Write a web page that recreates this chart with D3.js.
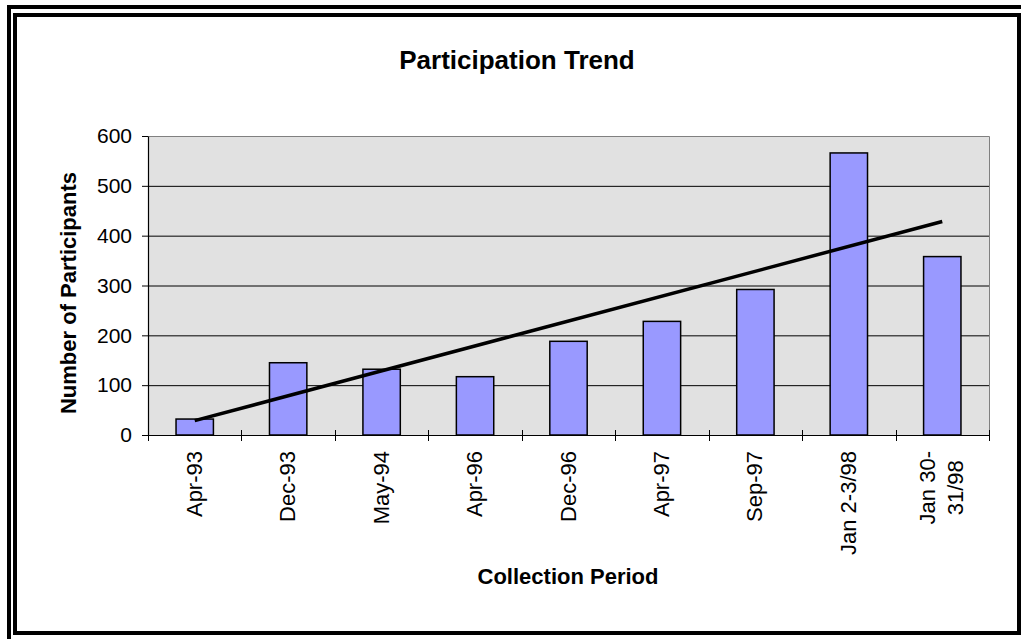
<!DOCTYPE html>
<html>
<head>
<meta charset="utf-8">
<script src="https://cdn.jsdelivr.net/npm/d3@7/dist/d3.min.js"></script>
<style>
  body { margin:0; background:#fff; }
  text { font-family: "Liberation Sans", Arial, sans-serif; fill:#000; }
</style>
</head>
<body>
<div id="chart"></div>
<script>
// data
var periods = ["Apr-93","Dec-93","May-94","Apr-96","Dec-96","Apr-97","Sep-97","Jan 2-3/98","Jan 30-\n31/98"];
var participants = [32,145,132,117,188,228,292,566,358];
var yTicks = [0,100,200,300,400,500,600];

var W = 1021, H = 639;
var plot = {l:148, r:989, t:136, b:435};

var svg = d3.select("#chart").append("svg")
    .attr("width",W).attr("height",H);

// double frame
svg.append("rect").attr("x",9).attr("y",7).attr("width",1100).attr("height",700)
    .attr("fill","none").attr("stroke","#000").attr("stroke-width",4);
svg.append("rect").attr("x",15).attr("y",15).attr("width",1004).attr("height",618)
    .attr("fill","none").attr("stroke","#000").attr("stroke-width",4);

var x = d3.scaleBand()
    .domain(periods)
    .range([plot.l, plot.r])
    .paddingInner(0.6)
    .paddingOuter(0.3);

var y = d3.scaleLinear()
    .domain([0,600])
    .range([plot.b, plot.t]);

// plot area
svg.append("rect")
    .attr("x",plot.l).attr("y",plot.t)
    .attr("width",plot.r-plot.l).attr("height",plot.b-plot.t)
    .attr("fill","#e1e1e1");

svg.selectAll(".grid")
    .data(yTicks.filter(function(d){return d>0 && d<600;}))
    .enter().append("line")
    .attr("class","grid")
    .attr("x1",plot.l).attr("x2",plot.r)
    .attr("y1",function(d){return y(d)+0.5;})
    .attr("y2",function(d){return y(d)+0.5;})
    .attr("stroke","#000").attr("stroke-width",1);

// gray border top + right
svg.append("path")
    .attr("d","M"+plot.l+","+(plot.t+0.5)+"H"+(plot.r+0.5)+"V"+plot.b)
    .attr("fill","none").attr("stroke","#808080").attr("stroke-width",1);

// bars
svg.selectAll(".bar")
    .data(participants)
    .enter().append("rect")
    .attr("class","bar")
    .attr("x",function(d,i){return x(periods[i]);})
    .attr("y",function(d){return y(d);})
    .attr("width",x.bandwidth())
    .attr("height",function(d){return y(0)-y(d);})
    .attr("fill","#9999ff")
    .attr("stroke","#000")
    .attr("stroke-width",1.5);

// linear trendline (least squares over category index)
var n = participants.length;
var mx = (n-1)/2, my = d3.mean(participants);
var sxy = 0, sxx = 0;
participants.forEach(function(v,i){ sxy += (i-mx)*(v-my); sxx += (i-mx)*(i-mx); });
var slope = sxy/sxx, icpt = my - slope*mx;
var trend = [0, n-1].map(function(i){ return {i:i, v:icpt+slope*i}; });

var line = d3.line()
    .x(function(d){ return x(periods[d.i]) + x.bandwidth()/2; })
    .y(function(d){ return y(d.v); });

svg.append("path")
    .attr("d",line(trend))
    .attr("fill","none")
    .attr("stroke","#000")
    .attr("stroke-width",3.5);

// y axis
var yAxis = svg.append("g")
    .attr("transform","translate("+plot.l+",0)")
    .call(d3.axisLeft(y).tickValues(yTicks).tickSize(6).tickPadding(10).tickSizeOuter(0));
yAxis.select(".domain").attr("stroke","#000").attr("stroke-width",1.2);
yAxis.selectAll(".tick line").attr("stroke","#000");
yAxis.selectAll(".tick text")
    .style("font-family","Liberation Sans, Arial, sans-serif")
    .style("font-size","21px")
    .attr("fill","#000");

// x axis line + crossing ticks at band edges
var edges = d3.range(n+1).map(function(i){ return plot.l + x.step()*i; });
svg.append("line")
    .attr("x1",plot.l).attr("x2",plot.r)
    .attr("y1",plot.b+0.5).attr("y2",plot.b+0.5)
    .attr("stroke","#000").attr("stroke-width",1.2);
svg.selectAll(".xtick")
    .data(edges)
    .enter().append("line")
    .attr("class","xtick")
    .attr("x1",function(d){return Math.round(d)+0.5;})
    .attr("x2",function(d){return Math.round(d)+0.5;})
    .attr("y1",plot.b-5).attr("y2",plot.b+6)
    .attr("stroke","#000");

// rotated category labels
var labelTop = 451;
periods.forEach(function(p){
    var lines = p.split("\n");
    var cx = x(p) + x.bandwidth()/2;
    var g = svg.append("g");
    var texts = lines.map(function(s,k){
        var base = cx + 7 - (lines.length-1)*14 + k*28;
        return g.append("text")
            .attr("transform","translate("+base+","+labelTop+") rotate(-90)")
            .style("font-size","22px")
            .text(s);
    });
    var maxLen = d3.max(texts, function(t){ return t.node().getComputedTextLength(); });
    texts.forEach(function(t){
        t.attr("text-anchor","middle").attr("x",-maxLen/2);
    });
});

// titles
svg.append("text")
    .attr("x",517).attr("y",69)
    .attr("text-anchor","middle")
    .style("font-size","26px").style("font-weight","bold")
    .text("Participation Trend");

svg.append("text")
    .attr("x",568).attr("y",584)
    .attr("text-anchor","middle")
    .style("font-size","22px").style("font-weight","bold")
    .text("Collection Period");

svg.append("text")
    .attr("transform","translate(76,293) rotate(-90)")
    .attr("text-anchor","middle")
    .style("font-size","22px").style("font-weight","bold")
    .text("Number of Participants");
</script>
</body>
</html>
